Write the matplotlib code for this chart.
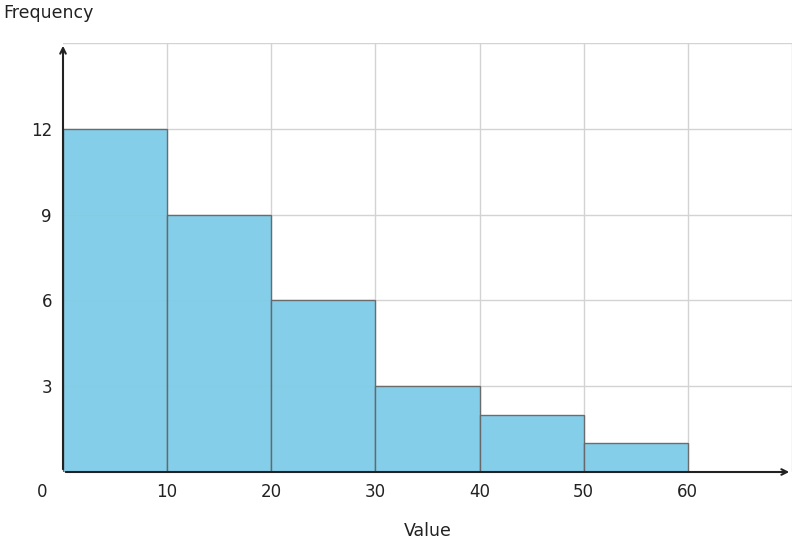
import matplotlib
matplotlib.use("Agg")
import matplotlib.pyplot as plt

bin_edges = [0, 10, 20, 30, 40, 50, 60]
counts = [12, 9, 6, 3, 2, 1]
xticks = [10, 20, 30, 40, 50, 60]
yticks = [3, 6, 9, 12]

fig = plt.figure(figsize=(7.96, 5.48), dpi=100)
ax = fig.add_axes([63/796, 76/548, 729/796, 429/548])
ax.set_xlim(0, 70)
ax.set_ylim(0, 15)
for x in xticks + [70]:
    ax.axvline(x, color="#d3d3d3", lw=1, zorder=0)
for y in yticks + [15]:
    ax.axhline(y, color="#d3d3d3", lw=1, zorder=0)
lefts = bin_edges[:-1]
widths = [b - a for a, b in zip(bin_edges[:-1], bin_edges[1:])]
ax.bar(lefts, counts, width=widths, align="edge", color="#7ecce8", alpha=0.95,
       edgecolor="#666666", linewidth=1, zorder=2)
for s in ax.spines.values():
    s.set_visible(False)
ax.set_xticks(xticks)
ax.set_yticks(yticks)
ax.tick_params(length=0, labelsize=12, colors="#222222", pad=8)
ax.annotate("", xy=(70, 0), xytext=(0, 0), xycoords="data",
            arrowprops=dict(arrowstyle="->", color="#222222", lw=1.5), zorder=5,
            annotation_clip=False)
ax.annotate("", xy=(0, 15), xytext=(0, 0), xycoords="data",
            arrowprops=dict(arrowstyle="->", color="#222222", lw=1.5), zorder=5,
            annotation_clip=False)
fig.text(42/796, 1 - 492/548, "0", ha="center", va="center", fontsize=12, color="#222222")
fig.text(3/796, 1 - 13/548, "Frequency", ha="left", va="center", fontsize=12.5, color="#222222")
fig.text(428/796, 1 - 531/548, "Value", ha="center", va="center", fontsize=12.5, color="#222222")
fig.savefig("out.png", dpi=100)
